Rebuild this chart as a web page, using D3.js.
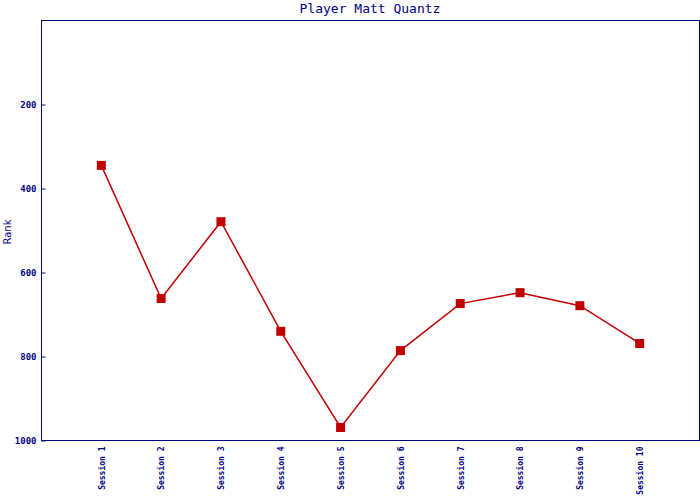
<!DOCTYPE html>
<html><head><meta charset="utf-8">
<script src="https://cdn.jsdelivr.net/npm/d3@7"></script>
<style>body{margin:0;background:#fff}svg{display:block}</style>
</head><body><svg id="c" width="700" height="500"></svg>
<script>
const categories = ["Session 1","Session 2","Session 3","Session 4","Session 5","Session 6","Session 7","Session 8","Session 9","Session 10"];
const ranks = [345, 662, 479, 740, 969, 786, 674, 648, 679, 769];
const yTicks = [200, 400, 600, 800, 1000];
const title = "Player Matt Quantz";
const yLabel = "Rank";

const svg = d3.select("#c");
const L = 41.5, R = 699.5, T = 20.5, B = 440.5;
const navy = "#000080", red = "#c00000";
const x = d3.scalePoint().domain(categories).range([L, R]).padding(1);
const y = d3.scaleLinear().domain([0, 1000]).range([T, B]);

svg.append("rect").attr("x", L).attr("y", T).attr("width", R - L).attr("height", B - T)
  .attr("fill", "none").attr("stroke", navy).attr("stroke-width", 1);

svg.append("text").attr("x", 370).attr("y", 13).attr("text-anchor", "middle")
  .attr("font-family", "DejaVu Sans Mono").attr("font-size", 13).attr("fill", navy).text(title);

const ya = svg.append("g").attr("transform", `translate(${L},0)`)
  .call(d3.axisRight(y).tickValues(yTicks).tickSize(4).tickFormat(d3.format("d")));
ya.select(".domain").remove();
ya.selectAll("line").attr("stroke", navy);
ya.selectAll("text").attr("x", -5).attr("text-anchor", "end")
  .attr("font-family", "DejaVu Sans Mono").attr("font-size", 9).attr("font-weight", "bold").attr("fill", navy);

svg.append("text").attr("transform", "translate(11,232) rotate(-90)").attr("text-anchor", "middle")
  .attr("font-family", "DejaVu Sans").attr("font-size", 10).attr("fill", navy).text(yLabel);

const xa = svg.append("g").attr("transform", `translate(0,${B})`)
  .call(d3.axisBottom(x).tickSize(0));
xa.select(".domain").remove();
xa.selectAll("text").attr("transform", "rotate(-90)").attr("text-anchor", "end")
  .attr("x", -6).attr("y", 0).attr("dy", "0.35em")
  .attr("font-family", "DejaVu Sans Mono").attr("font-size", 8).attr("font-weight", "bold").attr("fill", navy);

const line = d3.line().x((d, i) => x(categories[i])).y(d => y(d));
svg.append("path").datum(ranks).attr("d", line).attr("fill", "none")
  .attr("stroke", red).attr("stroke-width", 1.5);

svg.selectAll("rect.m").data(ranks).enter().append("rect").attr("class", "m")
  .attr("x", (d, i) => x(categories[i]) - 4.5).attr("y", d => y(d) - 4.5)
  .attr("width", 9).attr("height", 9).attr("fill", red);
</script></body></html>
